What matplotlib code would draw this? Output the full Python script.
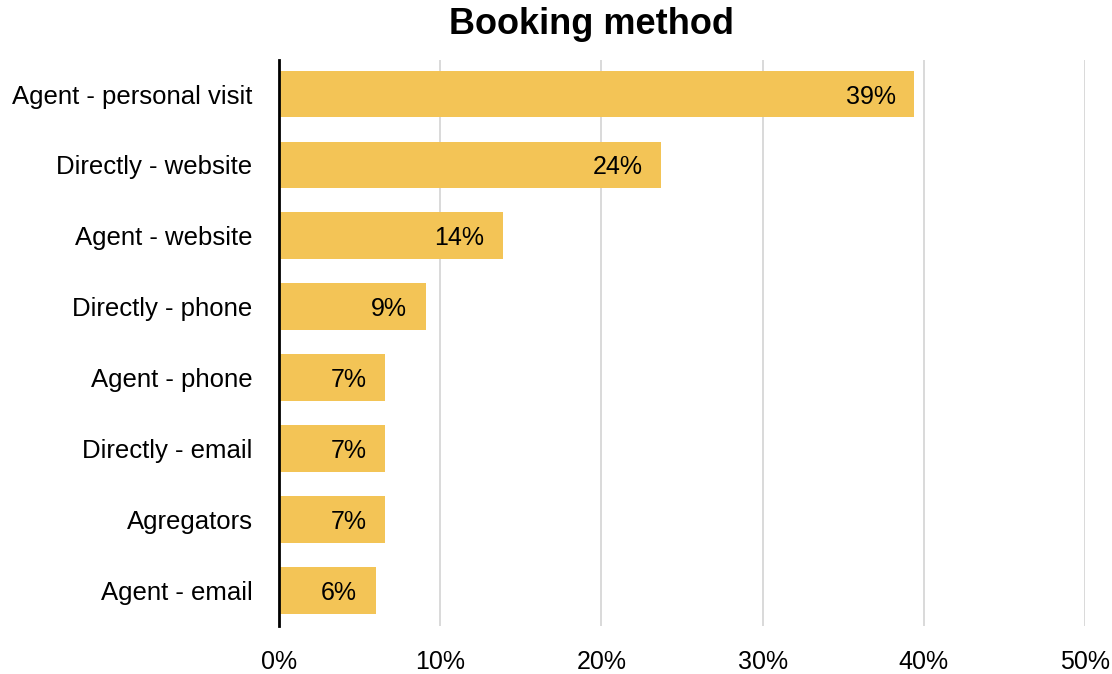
import matplotlib.pyplot as plt
from matplotlib.ticker import FuncFormatter

plt.rcParams['font.family'] = ['Liberation Sans', 'DejaVu Sans']

# Share of bookings by method (%)
methods = ['Agent - personal visit', 'Directly - website', 'Agent - website',
           'Directly - phone', 'Agent - phone', 'Directly - email',
           'Agregators', 'Agent - email']
shares = [39.4, 23.7, 13.9, 9.1, 6.6, 6.6, 6.6, 6.0]
x_ticks = [0, 10, 20, 30, 40, 50]

fig = plt.figure(figsize=(11.12, 6.74), dpi=100)
ax = fig.add_axes([279 / 1112, 48 / 674, 806 / 1112, 566 / 674])

y = range(len(methods))
bars = ax.barh(y, shares, height=0.66, color='#F3C456', zorder=2)

for b, v in zip(bars, shares):
    ax.text(b.get_width() - 1.15, b.get_y() + b.get_height() / 2, f'{v:.0f}%',
            ha='right', va='center_baseline', fontsize=18, color='black', zorder=3)

ax.set_yticks(list(y))
ax.set_yticklabels(methods, fontsize=18.5)
ax.set_ylim(len(methods) - 0.5, -0.48)

ax.set_xlim(0, 50)
ax.set_xticks(x_ticks)
ax.xaxis.set_major_formatter(FuncFormatter(lambda v, _: f'{v:.0f}%'))
ax.tick_params(axis='x', length=0, pad=17, labelsize=18)
ax.tick_params(axis='y', length=0, pad=19)

ax.grid(axis='x', color='#CFCFCF', linewidth=1.1, zorder=0)
for side in ['top', 'right', 'bottom']:
    ax.spines[side].set_visible(False)
ax.spines['left'].set_linewidth(2)
ax.spines['left'].set_zorder(4)

fig.suptitle('Booking method', fontsize=26, fontweight='bold', x=0.532, y=0.99)

fig.savefig('out.png', dpi=100)
